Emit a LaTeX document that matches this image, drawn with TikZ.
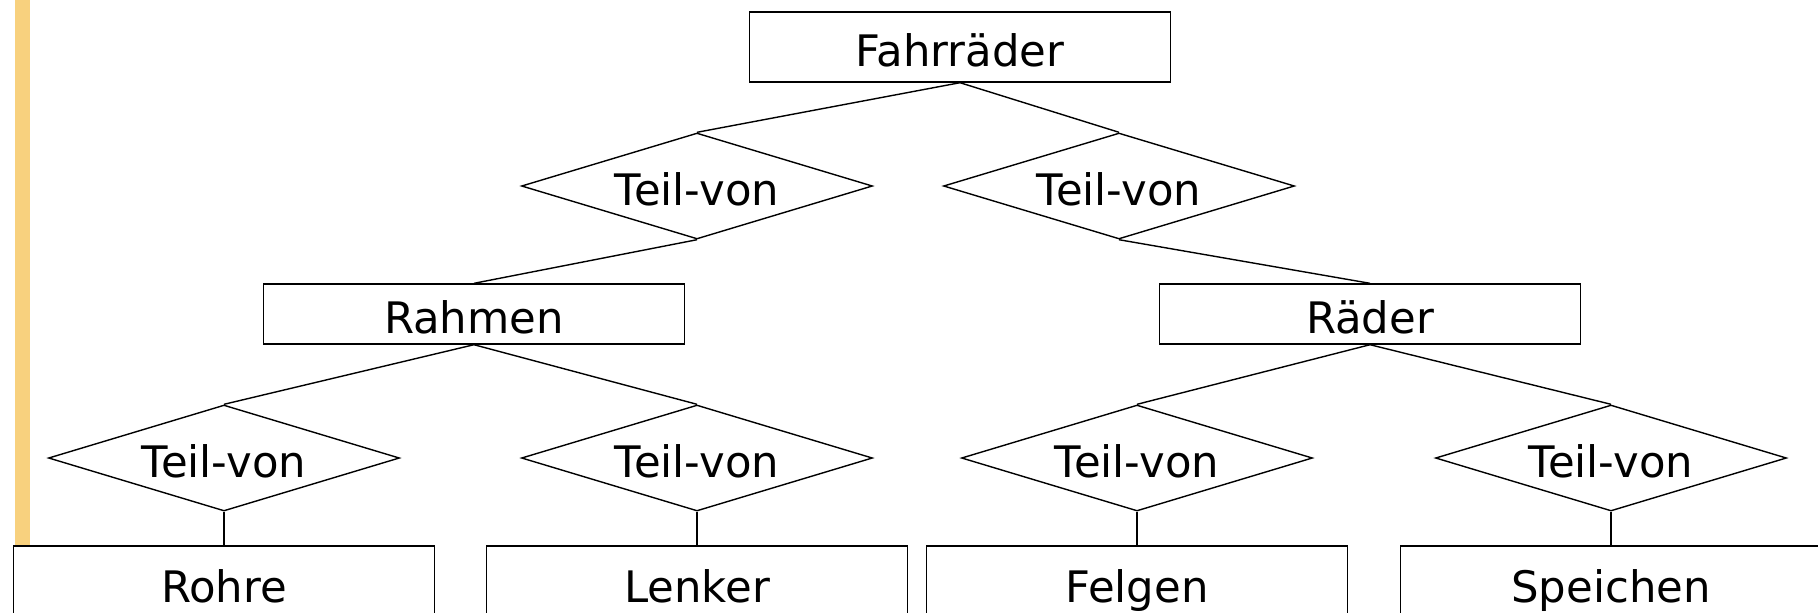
\documentclass[tikz,border=0pt]{standalone}
\usepackage{fontspec}
\setmainfont{DejaVu Sans}
\usetikzlibrary{positioning, shapes.geometric}
\definecolor{stripe}{HTML}{F8D17E}
\definecolor{textmain}{HTML}{000000}

\begin{document}
\begin{tikzpicture}[
    x=0.5pt, y=-0.5pt,
    entity/.style={rectangle, draw=textmain, fill=white, text=textmain, line width=0.7pt,
                   minimum width=210.5pt, minimum height=30pt, inner sep=0pt,
                   text height=19.3pt, text depth=0pt,
                   font=\fontsize{21.7}{25}\selectfont},
    relation/.style={diamond, draw=textmain, fill=white, text=textmain, line width=0.7pt,
                     shape aspect=3.3, minimum width=175.5pt, minimum height=53pt, inner sep=0pt,
                     text height=19.3pt, text depth=0pt,
                     font=\fontsize{21.7}{25}\selectfont},
    link/.style={line width=0.7pt, textmain}
  ]
    \useasboundingbox (0,0) rectangle (1818,612);
    \fill[stripe] (14.7,0) rectangle (30,612);

    \node[entity, minimum height=35pt] (bike) at (960,47) {Fahrräder};
    \node[relation] (r1) at (697,186) {Teil-von};
    \node[relation] (r2) at (1119,186) {Teil-von};
    \node[entity] (frame) at (474,314) {Rahmen};
    \node[entity] (wheels) at (1370,314) {Räder};

    \node[relation] (r3) at (224,458) {Teil-von};
    \node[relation] (r4) at (697,458) {Teil-von};
    \node[relation] (r5) at (1137,458) {Teil-von};
    \node[relation] (r6) at (1611,458) {Teil-von};

    \node[entity, minimum height=37pt] (tubes) at (224,583) {Rohre};
    \node[entity, minimum height=37pt] (bar) at (697,583) {Lenker};
    \node[entity, minimum height=37pt] (rims) at (1137,583) {Felgen};
    \node[entity, minimum height=37pt] (spokes) at (1611,583) {Speichen};

    \draw[link] (bike.south) -- (r1.north);
    \draw[link] (bike.south) -- (r2.north);
    \draw[link] (r1.south) -- (frame.north);
    \draw[link] (r2.south) -- (wheels.north);
    \draw[link] (frame.south) -- (r3.north);
    \draw[link] (frame.south) -- (r4.north);
    \draw[link] (wheels.south) -- (r5.north);
    \draw[link] (wheels.south) -- (r6.north);
    \draw[link] (r3.south) -- (tubes.north);
    \draw[link] (r4.south) -- (bar.north);
    \draw[link] (r5.south) -- (rims.north);
    \draw[link] (r6.south) -- (spokes.north);
  \end{tikzpicture}
\end{document}
